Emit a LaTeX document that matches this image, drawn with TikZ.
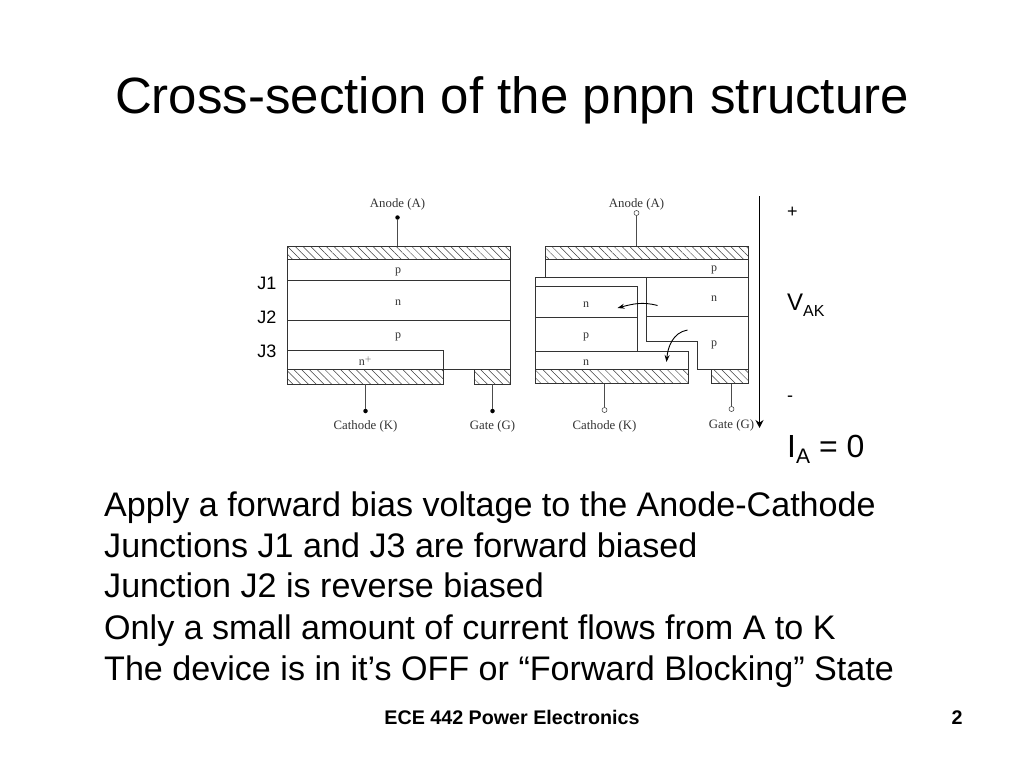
\documentclass[tikz,border=0pt]{standalone}
\usepackage{fontspec}
\setmainfont{Liberation Sans}
\newfontfamily\figfont{Liberation Serif}
\usetikzlibrary{arrows, arrows.meta, patterns.meta, positioning}
\tikzset{
	metal/.style={draw=black!80, line width=0.7pt, pattern={Lines[angle=-45,distance=5.5pt,line width=0.5pt]}, pattern color=black!75},
	layer/.style={black!80, line width=0.7pt},
	lead/.style={black!70, line width=0.6pt},
	fulldot/.style={circle, fill=black, inner sep=0pt, minimum size=4.5pt},
	opendot/.style={circle, draw=black!80, fill=white, line width=0.5pt, inner sep=0pt, minimum size=5pt},
	figlabel/.style={font=\figfont\fontsize{12.8}{14}\selectfont, text=black!80, inner sep=0pt},
	dope/.style={font=\figfont\fontsize{12}{14}\selectfont, text=black!80, inner sep=0pt},
	junction/.style={font=\fontsize{18}{20}\selectfont, inner sep=0pt},
	bodyline/.style={font=\fontsize{34.1}{40}\selectfont, anchor=base west, inner sep=0pt},
	sideline/.style={font=\fontsize{24}{28}\selectfont, anchor=base west, inner sep=0pt},
	footer/.style={font=\bfseries\fontsize{19.7}{22}\selectfont, anchor=base, inner sep=0pt}
}
\begin{document}
\begin{tikzpicture}[x=1pt, y=-1pt, >=stealth']
	\useasboundingbox (0,0) rectangle (1024,768);
	\node at (512,100) (title) [font=\fontsize{51}{60}\selectfont, inner sep=0pt] {Cross-section of the pnpn structure};

	% left structure
	\draw[metal] (287.5,246) rectangle (510,259.5);
	\draw[metal] (287.5,369) rectangle (443.5,384);
	\draw[metal] (474.5,369) rectangle (510,384);
	\draw[layer] (287.5,259.5) -- (287.5,369);
	\draw[layer] (510,259.5) -- (510,369);
	\draw[layer] (287.5,280.5) -- (510,280.5);
	\draw[layer] (287.5,320) -- (510,320);
	\draw[layer] (287.5,350.5) -- (443.5,350.5) -- (443.5,369);
	\draw[layer] (443.5,369) -- (474.5,369);
	\node at (398,272) (lp1) [dope] {p};
	\node at (398,303) (ln) [dope] {n};
	\node at (398,337) (lp2) [dope] {p};
	\node at (365.5,361) (lnp) [dope] {n$^+$};
	\node at (397.5,204.5) (lanode) [figlabel] {Anode (A)};
	\node at (365.5,426.5) (lcath) [figlabel] {Cathode (K)};
	\node at (492.5,426.5) (lgate) [figlabel] {Gate (G)};
	\node at (397.5,217.5) (la) [fulldot] {};
	\node at (365.5,411) (lk) [fulldot] {};
	\node at (492.5,411) (lg) [fulldot] {};
	\coordinate (lat) at (397.5,246);
	\coordinate (lkt) at (365.5,384);
	\coordinate (lgt) at (492.5,384);
	\draw[lead] (la) -- (lat);
	\draw[lead] (lk) -- (lkt);
	\draw[lead] (lg) -- (lgt);
	\node at (267,283) (j1) [junction] {J1};
	\node at (267,317) (j2) [junction] {J2};
	\node at (267,351) (j3) [junction] {J3};

	% right structure, split along J2
	\draw[metal] (545.5,246) rectangle (748.5,259);
	\draw[metal] (535.5,369) rectangle (688.5,383.5);
	\draw[metal] (711.5,369) rectangle (748.5,383.5);
	\draw[layer] (545.5,259) -- (545.5,277);
	\draw[layer] (748.5,259) -- (748.5,369);
	\draw[layer] (535.5,369) -- (535.5,277) -- (748.5,277);
	\draw[layer] (535.5,286.5) -- (637.5,286.5) -- (637.5,351);
	\draw[layer] (535.5,317) -- (637.5,317);
	\draw[layer] (535.5,351) -- (688.5,351) -- (688.5,369);
	\draw[layer] (646.5,277) -- (646.5,341) -- (697.5,341) -- (697.5,369) -- (711.5,369);
	\draw[layer] (646.5,316.5) -- (748.5,316.5);
	\node at (714,270) (rp1) [dope] {p};
	\node at (586,305) (rn1) [dope] {n};
	\node at (714,299) (rn2) [dope] {n};
	\node at (586,337) (rp2) [dope] {p};
	\node at (714,345) (rp3) [dope] {p};
	\node at (586,363) (rn3) [dope] {n};
	\node at (636.5,204.5) (ranode) [figlabel] {Anode (A)};
	\node at (604.5,426.5) (rcath) [figlabel] {Cathode (K)};
	\node at (731.5,425.5) (rgate) [figlabel] {Gate (G)};
	\node at (636.5,213) (ra) [opendot] {};
	\node at (604.5,410) (rk) [opendot] {};
	\node at (731.5,409) (rg) [opendot] {};
	\coordinate (rat) at (636.5,246);
	\coordinate (rkt) at (604.5,383.5);
	\coordinate (rgt) at (731.5,383.5);
	\draw[lead] (ra) -- (rat);
	\draw[lead] (rk) -- (rkt);
	\draw[lead] (rg) -- (rgt);
	\coordinate (c1s) at (657.5,305.5);
	\coordinate (c1e) at (617.5,308);
	\coordinate (c2s) at (687.5,330);
	\coordinate (c2e) at (666.5,362);
	\draw[-{Stealth[length=7pt,width=5pt]}, black, line width=0.9pt] (c1s) to [out=165,in=15] (c1e);
	\draw[-{Stealth[length=7pt,width=5pt]}, black, line width=0.9pt] (c2s) to [out=190,in=85] (c2e);

	% voltage across the device
	\coordinate (vtop) at (759.5,196);
	\coordinate (vbot) at (759.5,428);
	\draw[-{Stealth[length=8pt,width=8pt]}, black, line width=1.5pt] (vtop) -- (vbot);
	\node at (787,217) (vplus) [sideline, font=\fontsize{18}{20}\selectfont] {+};
	\node at (787,310) (vak) [sideline] {V\raisebox{-0.25em}{\fontsize{16}{18}\selectfont AK}};
	\node at (787,401) (vminus) [sideline, font=\fontsize{18}{20}\selectfont] {-};
	\node at (787,457) (ia) [sideline, font=\fontsize{32}{36}\selectfont] {I\raisebox{-0.2em}{\fontsize{21}{24}\selectfont A} = 0};

	% text lines
	\node at (104,516) (b1) [bodyline] {Apply a forward bias voltage to the Anode-Cathode};
	\node at (104,557) (b2) [bodyline] {Junctions J1 and J3 are forward biased};
	\node at (104,597) (b3) [bodyline] {Junction J2 is reverse biased};
	\node at (104,639) (b4) [bodyline] {Only a small amount of current flows from A to K};
	\node at (104,680) (b5) [bodyline] {The device is in it’s OFF or “Forward Blocking” State};
	\node at (512,724) (foot) [footer] {ECE 442 Power Electronics};
	\node at (957,724) (page) [footer] {2};
\end{tikzpicture}
\end{document}
